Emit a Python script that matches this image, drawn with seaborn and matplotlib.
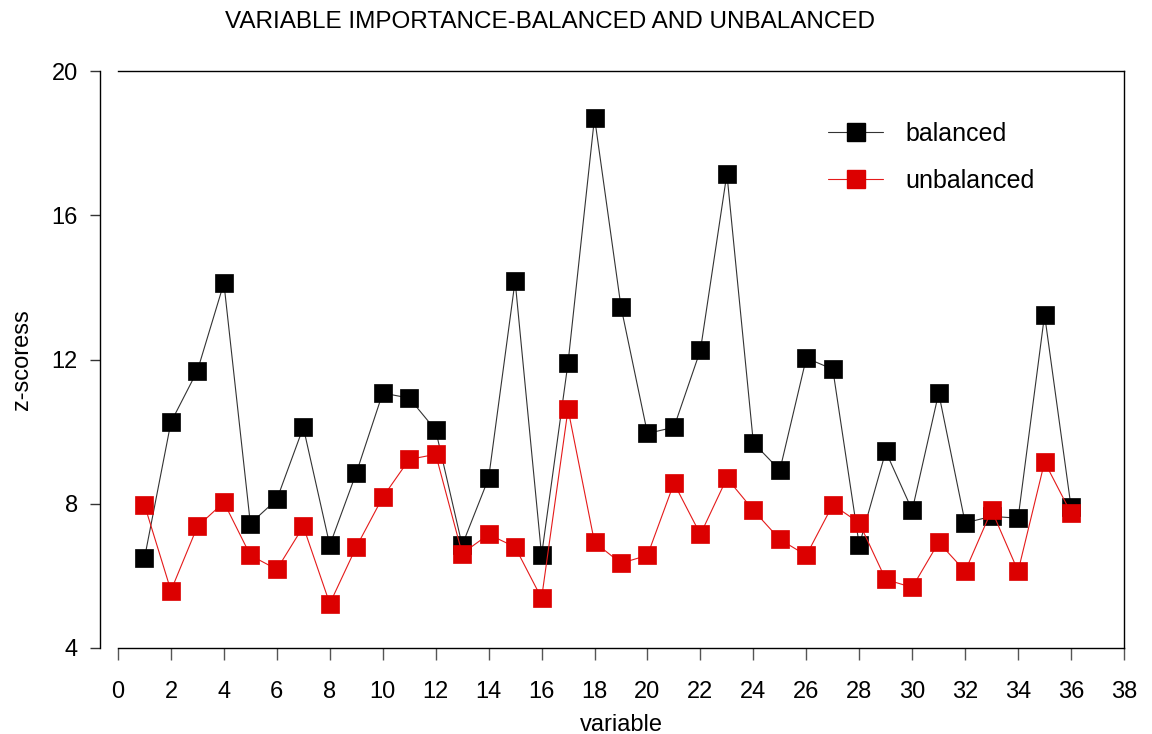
import matplotlib
matplotlib.use("Agg")
import matplotlib.pyplot as plt
import seaborn as sns
import pandas as pd
from matplotlib import font_manager
from matplotlib.lines import Line2D

variables = list(range(1, 37))
balanced = [6.49, 10.26, 11.69, 14.12, 7.45, 8.12, 10.12, 6.85, 8.85, 11.07,
            10.93, 10.04, 6.85, 8.71, 14.18, 6.57, 11.91, 18.71, 13.46, 9.95,
            10.12, 12.26, 17.15, 9.69, 8.93, 12.04, 11.73, 6.85, 9.45, 7.82,
            11.07, 7.47, 7.65, 7.60, 13.24, 7.91]
unbalanced = [7.97, 5.59, 7.37, 8.04, 6.57, 6.18, 7.37, 5.23, 6.80, 8.18,
              9.23, 9.37, 6.62, 7.15, 6.80, 5.38, 10.62, 6.93, 6.35, 6.57,
              8.57, 7.15, 8.71, 7.82, 7.01, 6.57, 7.97, 7.47, 5.90, 5.68,
              6.93, 6.13, 7.82, 6.13, 9.16, 7.74]
series_names = ["balanced", "unbalanced"]
x_ticks = list(range(0, 39, 2))
y_ticks = [4, 8, 12, 16, 20]

sns.set_style("white")
names = {f.name for f in font_manager.fontManager.ttflist}
base = "Liberation Sans" if "Liberation Sans" in names else "DejaVu Sans"
narrow = "Liberation Sans Narrow" if "Liberation Sans Narrow" in names else base
plt.rcParams["font.family"] = [base, "DejaVu Sans"]
plt.rcParams["text.color"] = "black"
plt.rcParams["axes.labelcolor"] = "black"
plt.rcParams["xtick.color"] = "black"
plt.rcParams["ytick.color"] = "black"

fig = plt.figure(figsize=(11.52, 7.34), dpi=100)
W, H = 1152, 734
ax = fig.add_axes([118 / W, 1 - 648 / H, (1124 - 118) / W, (648 - 71) / H])

df = pd.DataFrame({"variable": variables, "balanced": balanced, "unbalanced": unbalanced})

sns.lineplot(data=df, x="variable", y="balanced", ax=ax, color="#333333", lw=0.8,
             marker="s", markersize=13.5, markerfacecolor="black", markeredgecolor="black",
             markeredgewidth=0.5, zorder=3)
sns.lineplot(data=df, x="variable", y="unbalanced", ax=ax, color="#e51a1a", lw=0.8,
             marker="s", markersize=13.5, markerfacecolor="#dc0000", markeredgecolor="#dc0000",
             markeredgewidth=0.5, zorder=4)

ax.set_xlim(0, 38)
ax.set_ylim(4, 20)
ax.set_xticks(x_ticks)
ax.set_yticks(y_ticks)
ax.set_xticklabels([str(t) for t in x_ticks])
ax.set_yticklabels([str(t) for t in y_ticks])

for s in ax.spines.values():
    s.set_visible(True)
    s.set_color("black")
    s.set_linewidth(1.0)
ax.spines["left"].set_position(("outward", 13))

ax.tick_params(axis="x", which="major", direction="out", length=8.5, width=1.0,
               color="#555555", pad=15, labelsize=17, bottom=True, labelcolor="black")
ax.tick_params(axis="y", which="major", direction="out", length=7, width=1.0,
               color="#333333", pad=9, labelsize=17, left=True, labelcolor="black")

ax.set_xlabel("variable", fontsize=17, labelpad=8)
ax.set_ylabel("z-scoress", fontsize=17, labelpad=13)

fig.text(550 / W, 1 - 22 / H, "VARIABLE IMPORTANCE-BALANCED AND UNBALANCED",
         ha="center", va="center", fontsize=17.5, family=[narrow, "DejaVu Sans"])

handles = [
    Line2D([], [], color="#333333", lw=0.8, marker="s", markersize=13.5,
           markerfacecolor="black", markeredgecolor="black"),
    Line2D([], [], color="#e51a1a", lw=0.8, marker="s", markersize=13.5,
           markerfacecolor="#dc0000", markeredgecolor="#dc0000"),
]
fig.legend(handles, series_names, loc="upper left",
           bbox_to_anchor=(828 / W, 1 - 122 / H), frameon=False,
           fontsize=18, handlelength=2.2, handletextpad=0.9, labelspacing=0.9,
           borderpad=0, borderaxespad=0)

fig.savefig("out.png", dpi=100)
